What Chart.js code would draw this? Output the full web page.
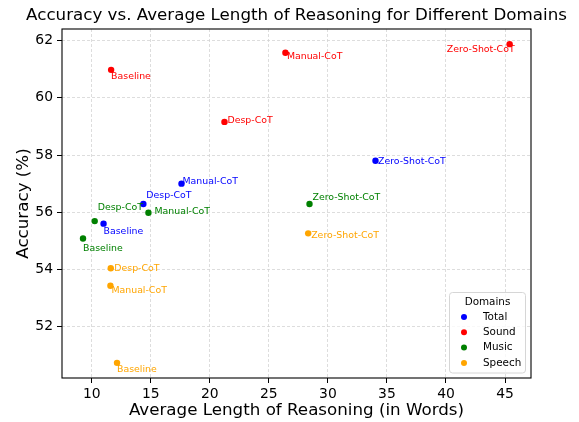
<!DOCTYPE html>
<html>
<head>
<meta charset="utf-8">
<script src="https://cdn.jsdelivr.net/npm/chart.js@4.4.1/dist/chart.umd.min.js"></script>
<style>
  html, body { margin: 0; padding: 0; background: #fff; }
</style>
</head>
<body>
<canvas id="graficaDominios" width="579" height="422"></canvas>
<script>
const methods = ['Baseline', 'Manual-CoT', 'Desp-CoT', 'Zero-Shot-CoT'];
const domains = ['Total', 'Sound', 'Music', 'Speech'];

const totalLen = [11.0, 17.6, 14.37, 34.03];
const totalAcc = [55.6, 57.0, 56.29, 57.8];
const soundLen = [11.64, 26.4, 21.24, 45.39];
const soundAcc = [60.98, 61.58, 59.16, 61.88];
const musicLen = [9.26, 14.8, 10.25, 28.44];
const musicAcc = [55.08, 55.98, 55.69, 56.29];
const speechLen = [12.14, 11.58, 11.61, 28.33];
const speechAcc = [50.73, 53.43, 54.04, 55.26];

const xTicks = [10, 15, 20, 25, 30, 35, 40, 45];
const yTicks = [52, 54, 56, 58, 60, 62];

const colores = ['#0000ff', '#ff0000', '#008000', '#ffa500'];

// where each point's text sits relative to the point: [dx, dy, align]
const labelPos = [
    [[0, 8], [1, -2.5], [3, -8.5], [2.5, 1]],
    [[0, 7], [1.5, 4], [3, -1.5], [5, 5, 'right']],
    [[0, 10], [6, -1.5], [3, -14], [3, -6]],
    [[0, 7], [1, 4.5], [3.5, 0], [3, 2]]
];

const FONT = "'DejaVu Sans', sans-serif";

function puntos(xs, ys) {
    return xs.map((x, i) => ({ x, y: ys[i] }));
}

const series = [
    puntos(totalLen, totalAcc),
    puntos(soundLen, soundAcc),
    puntos(musicLen, musicAcc),
    puntos(speechLen, speechAcc)
];

const etiquetasPlugin = {
    id: 'etiquetas',
    afterDatasetsDraw(chart) {
        const ctx = chart.ctx;
        ctx.save();
        ctx.font = '9.4px ' + FONT;
        ctx.textBaseline = 'middle';
        chart.data.datasets.forEach((ds, i) => {
            chart.getDatasetMeta(i).data.forEach((pt, j) => {
                const [dx, dy, align] = labelPos[i][j];
                ctx.fillStyle = ds.backgroundColor;
                ctx.textAlign = align || 'left';
                ctx.fillText(methods[j], pt.x + dx, pt.y + dy);
            });
        });
        ctx.restore();
    }
};

const marcoPlugin = {
    id: 'marco',
    afterDatasetsDraw(chart) {
        const { ctx, chartArea: a } = chart;
        ctx.save();
        ctx.strokeStyle = '#000';
        ctx.lineWidth = 1.1;
        ctx.strokeRect(a.left, a.top, a.right - a.left, a.bottom - a.top);
        ctx.restore();
    }
};

const tituloPlugin = {
    id: 'titulo',
    afterDraw(chart) {
        const { ctx, chartArea: a } = chart;
        ctx.save();
        ctx.font = '16.7px ' + FONT;
        ctx.fillStyle = '#000';
        ctx.textAlign = 'center';
        ctx.textBaseline = 'middle';
        ctx.fillText('Accuracy vs. Average Length of Reasoning for Different Domains', (a.left + a.right) / 2, 15.5);
        ctx.restore();
    }
};

const leyendaPlugin = {
    id: 'leyenda',
    afterDraw(chart) {
        const { ctx, chartArea: a } = chart;
        const w = 76, h = 80.5;
        const x0 = a.right - 5.5 - w, y0 = a.bottom - 5 - h;
        ctx.save();
        ctx.fillStyle = 'rgba(255,255,255,0.8)';
        ctx.strokeStyle = '#d6d6d6';
        ctx.lineWidth = 1;
        ctx.beginPath();
        ctx.roundRect(x0, y0, w, h, 3);
        ctx.fill();
        ctx.stroke();
        ctx.font = '10.4px ' + FONT;
        ctx.fillStyle = '#000';
        ctx.textBaseline = 'middle';
        ctx.textAlign = 'center';
        ctx.fillText('Domains', x0 + w / 2, y0 + 9.5);
        ctx.textAlign = 'left';
        chart.data.datasets.forEach((ds, i) => {
            const y = y0 + 24.5 + i * 15.3;
            ctx.fillStyle = ds.backgroundColor;
            ctx.beginPath();
            ctx.arc(x0 + 14.5, y, 3, 0, Math.PI * 2);
            ctx.fill();
            ctx.fillStyle = '#000';
            ctx.fillText(ds.label, x0 + 33.5, y);
        });
        ctx.restore();
    }
};

const ctx = document.getElementById('graficaDominios');

new Chart(ctx, {
    type: 'scatter',
    data: {
        datasets: domains.map((d, i) => ({
            label: d,
            data: series[i],
            backgroundColor: colores[i],
            borderColor: colores[i],
            borderWidth: 0,
            pointRadius: 3.2,
            pointHoverRadius: 3.2
        }))
    },
    options: {
        responsive: false,
        animation: false,
        layout: { padding: { left: 0, top: 29, right: 48, bottom: 0 } },
        plugins: {
            legend: { display: false },
            tooltip: { enabled: false }
        },
        scales: {
            x: {
                type: 'linear',
                min: 7.48,
                max: 47.2,
                afterBuildTicks: s => { s.ticks = xTicks.map(v => ({ value: v })); },
                afterFit: s => { s.height = 44; },
                grid: {
                    color: '#d4d4d4',
                    lineWidth: 0.8,
                    tickColor: '#000',
                    tickLength: 5,
                    tickWidth: 1,
                    tickBorderDash: []
                },
                border: { display: false, dash: [3, 2] },
                ticks: { color: '#000', padding: 3, font: { family: FONT, size: 13.9 } },
                title: {
                    display: true,
                    text: 'Average Length of Reasoning (in Words)',
                    color: '#000',
                    font: { family: FONT, size: 16.7 },
                    padding: { top: 0, bottom: 1 }
                }
            },
            y: {
                type: 'linear',
                min: 50.2,
                max: 62.41,
                afterBuildTicks: s => { s.ticks = yTicks.map(v => ({ value: v })); },
                afterFit: s => { s.width = 62; },
                grid: {
                    color: '#d4d4d4',
                    lineWidth: 0.8,
                    tickColor: '#000',
                    tickLength: 5,
                    tickWidth: 1,
                    tickBorderDash: []
                },
                border: { display: false, dash: [3, 2] },
                ticks: { color: '#000', padding: 4, font: { family: FONT, size: 13.9 } },
                title: {
                    display: true,
                    text: 'Accuracy (%)',
                    color: '#000',
                    font: { family: FONT, size: 16.7 },
                    padding: { top: 14, bottom: 0 }
                }
            }
        }
    },
    plugins: [etiquetasPlugin, marcoPlugin, tituloPlugin, leyendaPlugin]
});
</script>
</body>
</html>
